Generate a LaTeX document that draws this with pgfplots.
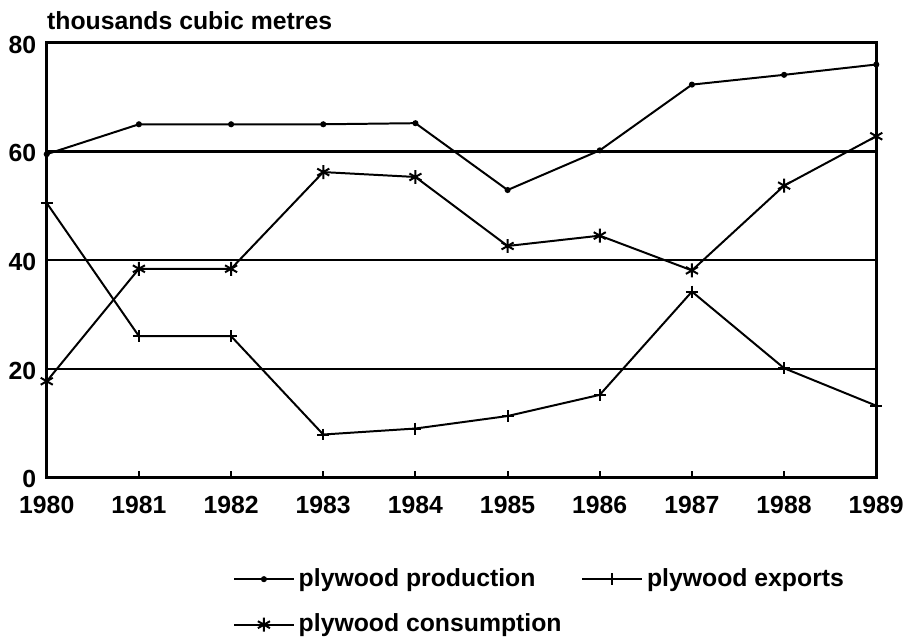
\documentclass[border=0pt]{standalone}
\usepackage{fontspec}
\setmainfont{Liberation Sans}
\usepackage{pgfplots}
\pgfplotsset{compat=1.18}
\begin{document}
\fontsize{12.5}{15}\selectfont\bfseries
\begin{tikzpicture}[x=1bp,y=1bp]
\begin{axis}[
  at={(0,0)}, anchor=south west,
  scale only axis, width=417bp, height=218.5bp,
  xmin=1980, xmax=1989, ymin=0, ymax=80,
  xtick={1980,...,1989}, ytick={0,20,40,60,80},
  axis line style={line width=1.3bp},
  tick style={black, line width=1bp},
  xtick pos=bottom, ytick pos=left,
  major tick length=3bp,
  ytick style={draw=none},
  ymajorgrids, grid style={black, line width=1.2bp},
  /pgf/number format/assume math mode=true,
  /pgf/number format/1000 sep={},
  tick label style={font=\fontsize{12.5}{15}\selectfont\bfseries},
  xticklabel style={yshift=-5bp},
  yticklabel style={xshift=-1bp, yshift=-1bp},
  clip=false,
  every axis plot/.append style={black, line width=1bp},
  legend style={draw=none, fill=none, at={(axis description cs:0.217,-0.19)}, anchor=north west,
    font=\fontsize{12.5}{15}\selectfont\bfseries, row sep=8bp,
    /tikz/every even column/.append style={column sep=8bp}},
  legend columns=2,
  legend cell align=left,
  legend image code/.code={\draw[mark repeat=2,mark phase=2] plot coordinates {(0bp,0bp)(15bp,0bp)(30bp,0bp)};},
]
\addplot[mark=*, mark size=1bp] coordinates {
(1980,59.5)(1981,65)(1982,65)(1983,65)(1984,65.2)(1985,52.9)(1986,60.2)(1987,72.3)(1988,74.1)(1989,76)};
\addlegendentry{plywood production}
\addplot[mark=+, mark size=3bp] coordinates {
(1980,50.5)(1981,26)(1982,26)(1983,7.9)(1984,9)(1985,11.3)(1986,15.2)(1987,34.2)(1988,20.1)(1989,13.2)};
\addlegendentry{plywood exports}
\addplot[mark=asterisk, mark size=3.5bp] coordinates {
(1980,17.7)(1981,38.4)(1982,38.4)(1983,56.2)(1984,55.3)(1985,42.6)(1986,44.5)(1987,38.1)(1988,53.7)(1989,62.8)};
\addlegendentry{plywood consumption}
\node[anchor=base west, inner sep=0] at ([yshift=6.5bp]rel axis cs:0,1) {thousands cubic metres};
\end{axis}
\path (-23.5,-81) rectangle (432.5,240);
\end{tikzpicture}
\end{document}
